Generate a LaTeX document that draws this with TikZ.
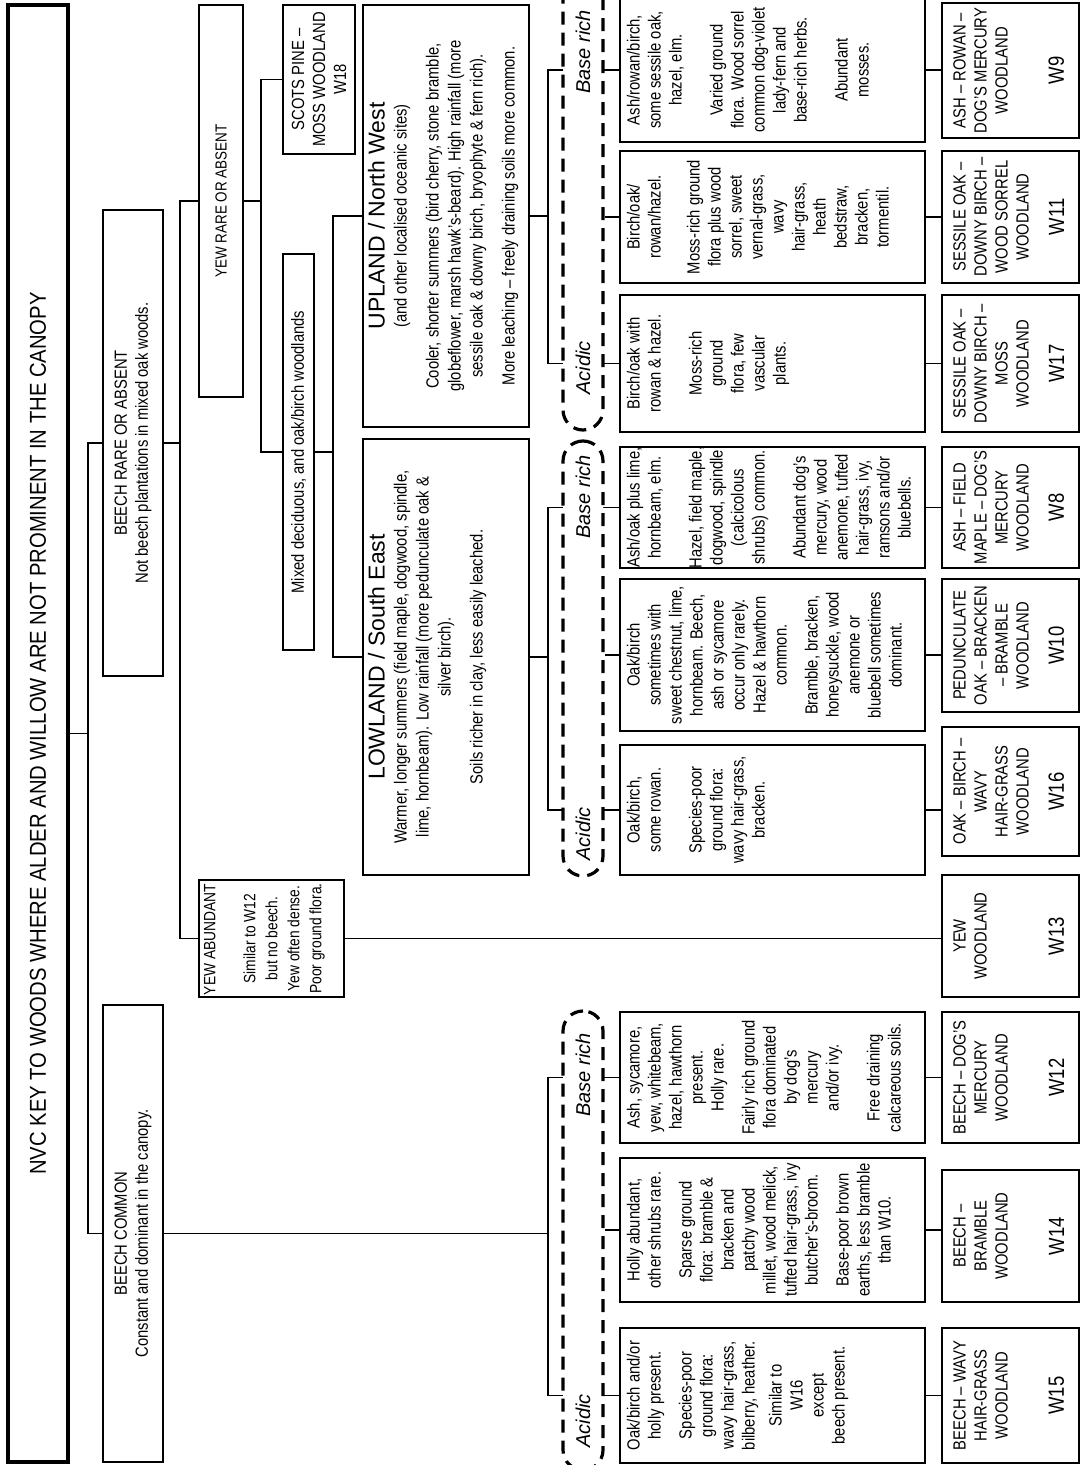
\documentclass[tikz,border=0pt]{standalone}
\usepackage{fontspec}
\setmainfont{Liberation Sans}[Ligatures=TeX]
\newfontfamily\condf{Liberation Sans}[FakeStretch=0.84, Ligatures=TeX]
\newfontfamily\titlef{Liberation Sans}[FakeStretch=0.88, Ligatures=TeX]
\newfontfamily\headf{Liberation Sans}[Ligatures=TeX]
\usetikzlibrary{calc}
\newcommand{\keycell}[3]{\parbox[c][\dimexpr 0.5pt*#2-5pt\relax][t]{\dimexpr 0.5pt*#1-2pt\relax}{\makebox[\linewidth]{\begin{tabular}[t]{@{}c@{}}#3\end{tabular}}}}
\newcommand{\namecell}[4]{\parbox[c][\dimexpr 0.5pt*#2-5pt\relax][t]{\dimexpr 0.5pt*#1-2pt\relax}{\vspace*{2pt}\makebox[\linewidth]{\begin{tabular}[t]{@{}c@{}}#3\end{tabular}}\par\vfill\makebox[\linewidth]{\fontsize{11}{13}\selectfont #4}\par\vspace*{5pt}}}
\tikzset{
  keybox/.style={draw, rotate=90, inner xsep=1pt, inner ysep=2.5pt, font=\condf\fontsize{8.8}{10.5}\selectfont},
  headbox/.style={draw, rotate=90, align=center, inner sep=0pt, font=\condf\fontsize{8.8}{10.5}\selectfont},
  soilrange/.style={draw, dash pattern=on 6.5pt off 4pt, line width=1.6pt, fill=white, rounded corners=10pt, minimum width=20pt, inner sep=0pt},
  soillabel/.style={rotate=90, inner sep=0pt, font=\itshape\fontsize{10}{12}\selectfont}
}

\begin{document}
\begin{tikzpicture}[x=0.5pt, y=-0.5pt, line width=0.75pt]
	\useasboundingbox (0,0) rectangle (1086,1465);
	\clip (0,0) rectangle (1086,1465);
	\coordinate (v1) at (88,0);
	\coordinate (v2) at (180,0);
	\coordinate (v3) at (261,0);
	\coordinate (v4) at (333,0);
	\coordinate (v5) at (548,0);
	\node[headbox, line width=1.8pt, minimum width=728.5pt, minimum height=30pt, font=\titlef\fontsize{11.5}{14}\selectfont] (title) at (38,733.5) {NVC KEY TO WOODS WHERE ALDER AND WILLOW ARE NOT PROMINENT IN THE CANOPY};
	\node[headbox, minimum width=233pt, minimum height=30pt] (brare) at (133,443) {BEECH RARE OR ABSENT\\Not beech plantations in mixed oak woods.};
	\node[headbox, minimum width=228.5pt, minimum height=30pt] (bcom) at (133,1233.5) {BEECH COMMON\\Constant and dominant in the canopy.};
	\node[headbox, minimum width=196pt, minimum height=22pt, font=\condf\fontsize{8}{10}\selectfont] (yrare) at (221,201) {YEW RARE OR ABSENT};
	\node[keybox, font=\condf\fontsize{8.2}{11}\selectfont] (yabund) at (271.5,938.5) {\parbox[c][\dimexpr 0.5pt*145-5pt\relax][t]{\dimexpr 0.5pt*117-2pt\relax}{\makebox[\linewidth][l]{YEW ABUNDANT}\par\vspace{9pt}\makebox[\linewidth]{\begin{tabular}[t]{@{}c@{}}Similar to W12\\ but no beech.\\ Yew often dense.\\ Poor ground flora.\end{tabular}}}};
	\node[headbox, minimum width=74.5pt, minimum height=36pt] (scots) at (319,79.5) {SCOTS PINE –\\MOSS WOODLAND\\W18};
	\node[headbox, minimum width=198pt, minimum height=15.5pt] (mixed) at (298.5,452) {Mixed deciduous, and oak/birch woodlands};
	\node[keybox, font=\condf\fontsize{8.8}{11}\selectfont] (upland) at (446,216) {\keycell{422}{166}{{\headf\fontsize{11.5}{13}\selectfont UPLAND / North West}\\ (and other localised oceanic sites)\\[5pt] Cooler, shorter summers (bird cherry, stone bramble,\\ globeflower, marsh hawk’s-beard). High rainfall (more\\ sessile oak \& downy birch, bryophyte \& fern rich).\\[5pt] More leaching – freely draining soils more common.}};
	\node[keybox, font=\condf\fontsize{8.8}{11}\selectfont] (lowland) at (446,657) {\keycell{436}{166}{{\headf\fontsize{11.5}{13}\selectfont LOWLAND / South East}\\ Warmer, longer summers (field maple, dogwood, spindle,\\ lime, hornbeam). Low rainfall (more pedunculate oak \&\\ silver birch).\\[5pt] Soils richer in clay, less easily leached.}};

	\node[keybox] (t9) at (772.5,70) {\keycell{144}{305}{Ash/rowan/birch,\\ some sessile oak,\\ hazel, elm.\\[10pt] Varied ground\\ flora. Wood sorrel\\ common dog-violet\\ lady-fern and\\ base-rich herbs.\\[10pt] Abundant\\ mosses.}};
	\node[keybox] (t11) at (772.5,217) {\keycell{132}{305}{Birch/oak/\\ rowan/hazel.\\[9pt] Moss-rich ground\\ flora plus wood\\ sorrel, sweet\\ vernal-grass,\\ wavy\\ hair-grass,\\ heath\\ bedstraw,\\ bracken,\\ tormentil.}};
	\node[keybox] (t17) at (772.5,363.5) {\keycell{137}{305}{Birch/oak with\\ rowan \& hazel.\\[10pt] Moss-rich\\ ground\\ flora, few\\ vascular\\ plants.}};
	\node[keybox] (t8) at (772.5,507.5) {\keycell{121}{305}{Ash/oak plus lime,\\ hornbeam, elm.\\[10pt] Hazel, field maple,\\ dogwood, spindle\\ (calcicolous\\ shrubs) common.\\[10pt] Abundant dog’s\\ mercury, wood\\ anemone, tufted\\ hair-grass, ivy,\\ ramsons and/or\\ bluebells.}};
	\node[keybox] (t10) at (772.5,655) {\keycell{152}{305}{Oak/birch\\ sometimes with\\ sweet chestnut, lime,\\ hornbeam. Beech,\\ ash or sycamore\\ occur only rarely.\\ Hazel \& hawthorn\\ common.\\[5pt] Bramble, bracken,\\ honeysuckle, wood\\ anemone or\\ bluebell sometimes\\ dominant.}};
	\node[keybox] (t16) at (772.5,810) {\keycell{130}{305}{Oak/birch,\\ some rowan.\\[10pt] Species-poor\\ ground flora:\\ wavy hair-grass,\\ bracken.}};
	\node[keybox] (t12) at (772.5,1077.5) {\keycell{131}{305}{Ash, sycamore,\\ yew, whitebeam,\\ hazel, hawthorn\\ present.\\ Holly rare.\\[5pt] Fairly rich ground\\ flora dominated\\ by dog’s\\ mercury\\ and/or ivy.\\[10pt] Free draining\\ calcareous soils.}};
	\node[keybox] (t14) at (772.5,1230) {\keycell{144}{305}{Holly abundant,\\ other shrubs rare.\\[5pt] Sparse ground\\ flora: bramble \&\\ bracken and\\ patchy wood\\ millet, wood melick,\\ tufted hair-grass, ivy\\ butcher’s-broom.\\[5pt] Base-poor brown\\ earths, less bramble\\ than W10.}};
	\node[keybox] (t15) at (772.5,1395.5) {\keycell{135}{305}{Oak/birch and/or\\ holly present.\\[5pt] Species-poor\\ ground flora:\\ wavy hair-grass,\\ bilberry, heather.\\[3pt] Similar to\\ W16\\ except\\ beech present.}};

	\node[keybox] (n9) at (1010.5,70.5) {\namecell{135}{137}{ASH – ROWAN –\\ DOG’S MERCURY\\ WOODLAND}{W9}};
	\node[keybox] (n11) at (1010.5,217) {\namecell{132}{137}{SESSILE OAK –\\ DOWNY BIRCH –\\ WOOD SORREL\\ WOODLAND}{W11}};
	\node[keybox] (n17) at (1010.5,363.5) {\namecell{137}{137}{SESSILE OAK –\\ DOWNY BIRCH –\\ MOSS\\ WOODLAND}{W17}};
	\node[keybox] (n8) at (1010.5,507.5) {\namecell{121}{137}{ASH – FIELD\\ MAPLE – DOG’S\\ MERCURY\\ WOODLAND}{W8}};
	\node[keybox] (n10) at (1010.5,645.5) {\namecell{133}{137}{PEDUNCULATE\\ OAK – BRACKEN\\ – BRAMBLE\\ WOODLAND}{W10}};
	\node[keybox] (n16) at (1010.5,791.5) {\namecell{129}{137}{OAK – BIRCH –\\ WAVY\\ HAIR-GRASS\\ WOODLAND}{W16}};
	\node[keybox] (n13) at (1010.5,936) {\namecell{122}{137}{YEW\\ WOODLAND}{W13}};
	\node[keybox] (n12) at (1010.5,1077.5) {\namecell{131}{137}{BEECH – DOG’S\\ MERCURY\\ WOODLAND}{W12}};
	\node[keybox] (n14) at (1010.5,1236) {\namecell{132}{137}{BEECH –\\ BRAMBLE\\ WOODLAND}{W14}};
	\node[keybox] (n15) at (1010.5,1395.5) {\namecell{135}{137}{BEECH – WAVY\\ HAIR-GRASS\\ WOODLAND}{W15}};

	\draw (title.south) -- (title.south -| v1);
	\draw (brare.north) -- (brare.north -| v1) -- (bcom.north -| v1) -- (bcom.north);
	\draw (brare.south) -- (brare.south -| v2);
	\draw (yrare.north) -- (yrare.north -| v2) -- (yabund.north -| v2) -- (yabund.north);
	\draw (yrare.south) -- (yrare.south -| v3);
	\draw (scots.north) -- (scots.north -| v3) -- (mixed.north -| v3) -- (mixed.north);
	\draw (mixed.south) -- (mixed.south -| v4);
	\draw (upland.north) -- (upland.north -| v4) -- (lowland.north -| v4) -- (lowland.north);
	\draw (upland.south) -- (upland.south -| v5);
	\draw (t9.north) -- (t9.north -| v5) -- (t17.north -| v5) -- (t17.north);
	\draw (lowland.south) -- (lowland.south -| v5);
	\draw (t8.north) -- (t8.north -| v5) -- (t16.north -| v5) -- (t16.north);
	\draw (bcom.south) -- (bcom.south -| v5);
	\draw (t12.north) -- (t12.north -| v5) -- (t15.north -| v5) -- (t15.north);
	\draw (yabund.south) -- (yabund.south -| n13.north);
	\foreach \w in {9,11,17,8,10,16,12,14,15}
		\draw (t\w.south) -- (t\w.south -| n\w.north);

	\node[soilrange, minimum height=235pt] (uprange) at (583,195) {};
	\node[soilrange, minimum height=217.5pt] (lowrange) at (583,658.5) {};
	\node[soilrange, minimum height=229.5pt] (beechrange) at (583,1240.5) {};
	\draw (t11.north) -- (t11.north -| uprange.east);
	\draw (t10.north) -- (t10.north -| lowrange.east);
	\draw (t14.north) -- (t14.north -| beechrange.east);
	\node[soillabel] (uprich) at (583,52) {Base rich};
	\node[soillabel] (upacid) at (583,368) {Acidic};
	\node[soillabel] (lowrich) at (583,497) {Base rich};
	\node[soillabel] (lowacid) at (583,834) {Acidic};
	\node[soillabel] (beechrich) at (583,1075) {Base rich};
	\node[soillabel] (beechacid) at (583,1421) {Acidic};
\end{tikzpicture}
\end{document}
